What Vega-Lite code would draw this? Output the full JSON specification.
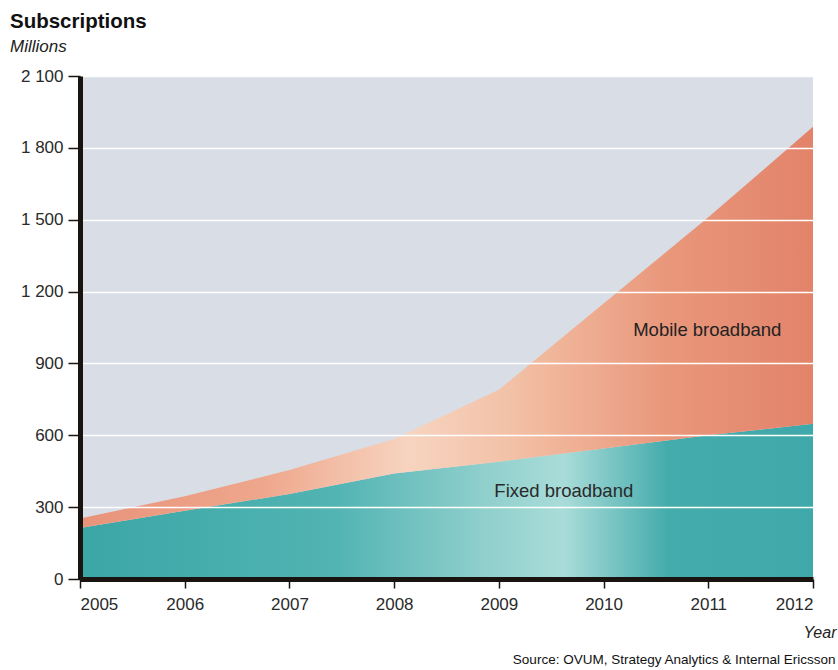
{
  "$schema": "https://vega.github.io/schema/vega-lite/v6.json",
  "width": 733,
  "height": 503,
  "autosize": {"type": "none"},
  "padding": {"left": 80, "top": 76, "right": 25, "bottom": 91},
  "background": "white",
  "config": {
    "font": "Liberation Sans",
    "view": {"stroke": null, "fill": "#d9dde6"}
  },
  "title": {
    "text": "Subscriptions",
    "subtitle": "Millions",
    "anchor": "start",
    "frame": "group",
    "dx": -70,
    "offset": 12,
    "fontSize": 20.5,
    "fontWeight": "bold",
    "color": "#111111",
    "subtitleFontSize": 17,
    "subtitleFontStyle": "italic",
    "subtitleColor": "#222222",
    "subtitlePadding": 7
  },
  "datasets": {
    "subs": [
      {"year": 2005, "series": "Fixed broadband", "value": 213},
      {"year": 2006, "series": "Fixed broadband", "value": 285},
      {"year": 2007, "series": "Fixed broadband", "value": 355},
      {"year": 2008, "series": "Fixed broadband", "value": 440},
      {"year": 2009, "series": "Fixed broadband", "value": 490},
      {"year": 2010, "series": "Fixed broadband", "value": 545},
      {"year": 2011, "series": "Fixed broadband", "value": 600},
      {"year": 2012, "series": "Fixed broadband", "value": 648},
      {"year": 2005, "series": "Mobile broadband", "value": 40},
      {"year": 2006, "series": "Mobile broadband", "value": 60},
      {"year": 2007, "series": "Mobile broadband", "value": 100},
      {"year": 2008, "series": "Mobile broadband", "value": 145},
      {"year": 2009, "series": "Mobile broadband", "value": 300},
      {"year": 2010, "series": "Mobile broadband", "value": 605},
      {"year": 2011, "series": "Mobile broadband", "value": 910},
      {"year": 2012, "series": "Mobile broadband", "value": 1240}
    ],
    "labels": [
      {"label": "Mobile broadband"},
      {"label": "Fixed broadband"}
    ]
  },
  "layer": [
    {
      "data": {"name": "subs"},
      "transform": [
        {"stack": "value", "groupby": ["year"], "sort": [{"field": "series", "order": "ascending"}], "as": ["v0", "v1"]},
        {"filter": "datum.series === 'Fixed broadband'"}
      ],
      "mark": {
        "type": "area",
        "color": {
          "gradient": "linear", "x1": 0, "x2": 1, "y1": 0, "y2": 0,
          "stops": [
            {"offset": 0, "color": "#3ba6a6"},
            {"offset": 0.35, "color": "#52b4b3"},
            {"offset": 0.55, "color": "#8fcfcc"},
            {"offset": 0.66, "color": "#a9dcd9"},
            {"offset": 0.8, "color": "#45acac"},
            {"offset": 1, "color": "#3fa8aa"}
          ]
        }
      },
      "encoding": {
        "x": {
          "field": "year",
          "type": "quantitative",
          "scale": {"domain": [2005, 2012], "nice": false, "zero": false},
          "axis": {
            "values": [2005, 2006, 2007, 2008, 2009, 2010, 2011, 2012],
            "format": "d",
            "grid": false,
            "domainColor": "#1a1410",
            "domainWidth": 5,
            "tickColor": "#1a1410",
            "tickWidth": 1.5,
            "tickSize": 9,
            "labelFontSize": 17,
            "labelColor": "#2a2a2a",
            "labelPadding": 8,
            "title": "Year",
            "titleFontSize": 16,
            "titleFontStyle": "italic",
            "titleFontWeight": "normal",
            "titleColor": "#222222",
            "titleAlign": "right",
            "titleAnchor": null,
            "titleX": 756,
            "titleY": 58,
            "titleBaseline": "alphabetic",
            "zindex": 1
          }
        },
        "y": {
          "field": "v1",
          "type": "quantitative",
          "scale": {"domain": [0, 2100], "nice": false},
          "axis": {
            "values": [0, 300, 600, 900, 1200, 1500, 1800, 2100],
            "labelExpr": "replace(format(datum.value, ','), ',', ' ')",
            "grid": true,
            "gridColor": "white",
            "gridWidth": 1.5,
            "gridOpacity": 1,
            "domainColor": "#1a1410",
            "domainWidth": 5,
            "tickColor": "#1a1410",
            "tickWidth": 1.5,
            "tickSize": 12,
            "labelFontSize": 17,
            "labelColor": "#2a2a2a",
            "labelPadding": 5,
            "title": "Source: OVUM, Strategy Analytics & Internal Ericsson",
            "titleAngle": 0,
            "titleFontSize": 13.5,
            "titleFontWeight": "normal",
            "titleColor": "#111111",
            "titleAlign": "right",
            "titleAnchor": null,
            "titleX": 755,
            "titleY": 587,
            "titleBaseline": "alphabetic",
            "zindex": 1
          }
        },
        "y2": {"field": "v0"}
      }
    },
    {
      "data": {"name": "subs"},
      "transform": [
        {"stack": "value", "groupby": ["year"], "sort": [{"field": "series", "order": "ascending"}], "as": ["v0", "v1"]},
        {"filter": "datum.series === 'Mobile broadband'"}
      ],
      "mark": {
        "type": "area",
        "color": {
          "gradient": "linear", "x1": 0, "x2": 1, "y1": 0, "y2": 0,
          "stops": [
            {"offset": 0, "color": "#e8937a"},
            {"offset": 0.25, "color": "#eea78c"},
            {"offset": 0.45, "color": "#f7d4c0"},
            {"offset": 0.6, "color": "#f2bfa4"},
            {"offset": 0.8, "color": "#e9977b"},
            {"offset": 1, "color": "#e2836a"}
          ]
        }
      },
      "encoding": {
        "x": {"field": "year", "type": "quantitative"},
        "y": {"field": "v1", "type": "quantitative"},
        "y2": {"field": "v0"}
      }
    },
    {
      "data": {"name": "labels"},
      "transform": [{"filter": "datum.label === 'Mobile broadband'"}],
      "mark": {"type": "text", "fontSize": 18.5, "color": "#222222", "align": "center", "baseline": "middle"},
      "encoding": {
        "text": {"field": "label", "type": "nominal"},
        "x": {"datum": 2010.99, "type": "quantitative"},
        "y": {"datum": 1040, "type": "quantitative"}
      }
    },
    {
      "data": {"name": "labels"},
      "transform": [{"filter": "datum.label === 'Fixed broadband'"}],
      "mark": {"type": "text", "fontSize": 18.5, "color": "#2a2a2a", "align": "center", "baseline": "middle"},
      "encoding": {
        "text": {"field": "label", "type": "nominal"},
        "x": {"datum": 2009.62, "type": "quantitative"},
        "y": {"datum": 367, "type": "quantitative"}
      }
    }
  ]
}
